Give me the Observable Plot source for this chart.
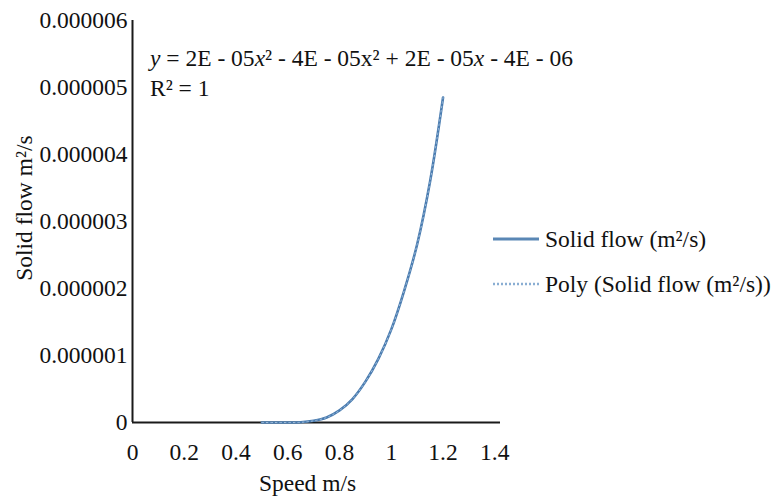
<!DOCTYPE html>
<html><head><meta charset="utf-8">
<script src="https://cdn.jsdelivr.net/npm/d3@7"></script>
<script src="https://cdn.jsdelivr.net/npm/@observablehq/plot@0.6"></script>
<style>body{margin:0;background:#fff} svg{display:block}</style>
</head><body><div id="chart"></div>
<script>
// Data
const speed     = [0.5, 0.55, 0.6, 0.65, 0.7, 0.75, 0.8, 0.85, 0.9, 0.95, 1.0, 1.05, 1.1, 1.15, 1.2];
const solidFlow = [0, 0, 0, 0.000000003, 0.000000025, 0.000000075, 0.00000018, 0.00000035, 0.00000061, 0.00000095, 0.00000139, 0.00000197, 0.00000266, 0.0000036, 0.00000485];
const xTicks = [0, 0.2, 0.4, 0.6, 0.8, 1, 1.2, 1.4];
const yTicks = [0, 0.000001, 0.000002, 0.000003, 0.000004, 0.000005, 0.000006];
const xLabel = "Speed m/s";
const yLabel = "Solid flow m²/s";
const seriesNames = ["Solid flow (m²/s)", "Poly (Solid flow (m²/s))"];
const equationParts = [["y", true], [" = 2E - 05", false], ["x", true], ["² - 4E - 05x² + 2E - 05", false], ["x", true], [" - 4E - 06", false]];
const r2Text = "R² = 1";

const data = speed.map((s, i) => ({speed: s, flow: solidFlow[i]}));
const FONT = '"Liberation Serif", "Times New Roman", serif';
const W = 784, H = 497, ML = 132, MR = 284, MT = 20, MB = 75;
const lineColor = "#4a7cb0", polyColor = "#a9c4e0";

const chart = Plot.plot({
  width: W, height: H,
  marginLeft: ML, marginRight: MR, marginTop: MT, marginBottom: MB,
  style: {fontFamily: FONT, fontSize: "23.5px", color: "#111", background: "#fff"},
  x: {domain: [0, 1.422]},
  y: {domain: [0, 0.000006]},
  marks: [
    Plot.axisX({ticks: xTicks, tickSize: 0, tickPadding: 21, label: null, tickFormat: d => String(d)}),
    Plot.axisY({ticks: yTicks, tickSize: 0, tickPadding: 5, label: null, tickFormat: d => d === 0 ? "0" : d.toFixed(6)}),
    Plot.ruleX([0], {stroke: "#1a1a1a", strokeWidth: 2}),
    Plot.ruleY([0], {stroke: "#1a1a1a", strokeWidth: 2}),
    Plot.line(data, {x: "speed", y: "flow", stroke: lineColor, strokeWidth: 2.6, curve: "catmull-rom"}),
    Plot.line(data, {x: "speed", y: "flow", stroke: polyColor, strokeWidth: 0.9, strokeDasharray: "1.5,3", curve: "catmull-rom"}),
    Plot.text([yLabel], {frameAnchor: "left", y: [0.0000032], dx: -108, rotate: -90, textAnchor: "middle", fontSize: 23.5}),
    Plot.text([xLabel], {frameAnchor: "bottom", dx: -9, dy: 68, lineAnchor: "bottom", fontSize: 23.5})
  ]
});

const svg = d3.select(chart);
// trendline equation
const eq = svg.append("text").attr("x", ML + 18).attr("y", 66).attr("text-anchor", "start")
  .attr("font-family", FONT).attr("font-size", 23.5).attr("fill", "#111");
equationParts.forEach(([t, it]) => eq.append("tspan").attr("font-style", it ? "italic" : "normal").text(t));
svg.append("text").attr("x", ML + 18).attr("y", 96).attr("text-anchor", "start")
  .attr("font-family", FONT).attr("font-size", 23.5).attr("fill", "#111").text(r2Text);

// legend
const lg = svg.append("g").attr("font-family", FONT).attr("font-size", 23.5).attr("fill", "#111").attr("text-anchor", "start");
const rows = [{y: 239, dash: null, color: "#5a87b5", w: 3}, {y: 284, dash: "2,2", color: "#8aaed3", w: 2.6}];
rows.forEach((r, i) => {
  const ln = lg.append("line").attr("x1", 493).attr("x2", 539).attr("y1", r.y).attr("y2", r.y)
    .attr("stroke", r.color).attr("stroke-width", r.w);
  if (r.dash) ln.attr("stroke-dasharray", r.dash);
  lg.append("text").attr("x", 545).attr("y", r.y + 8).text(seriesNames[i]);
});

document.getElementById("chart").append(chart);
</script>
</body></html>
